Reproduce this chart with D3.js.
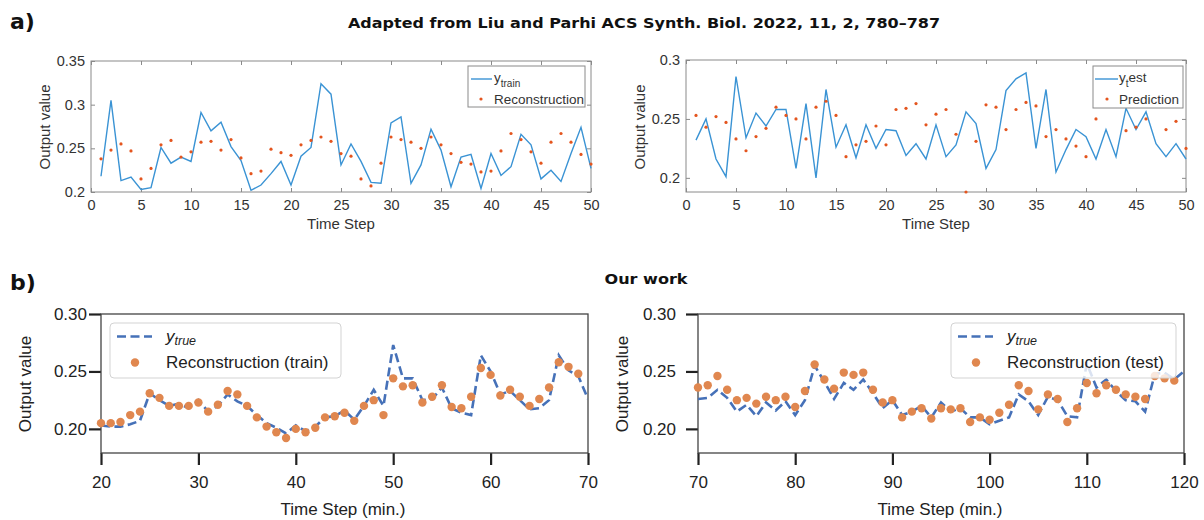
<!DOCTYPE html>
<html>
<head>
<meta charset="utf-8">
<script src="https://cdn.jsdelivr.net/npm/d3@7"></script>
<style>
  body { margin: 0; background: #fff; }
  svg { display: block; font-family: "Liberation Sans", Arial, sans-serif; }
</style>
</head>
<body>
<svg id="fig" width="1204" height="520"></svg>
<script>
// ---------- (a) Liu & Parhi: training reconstruction and test prediction ----------
const aFirstStep = 1;
const aTrain = [0.218,0.305,0.213,0.217,0.203,0.205,0.251,0.233,0.240,0.235,
                0.291,0.270,0.280,0.252,0.236,0.202,0.208,0.221,0.235,0.208,
                0.241,0.251,0.324,0.312,0.231,0.255,0.235,0.211,0.210,0.279,
                0.286,0.210,0.231,0.272,0.248,0.206,0.240,0.243,0.204,0.244,
                0.219,0.229,0.266,0.254,0.215,0.225,0.212,0.244,0.274,0.227];
const aReconstruction = [0.238,0.248,0.255,0.247,0.215,0.227,0.254,0.259,0.240,0.246,
                0.257,0.258,0.248,0.260,0.239,0.221,0.224,0.249,0.245,0.242,
                0.254,0.259,0.263,0.258,0.244,0.241,0.215,0.207,0.233,0.263,
                0.260,0.257,0.250,0.263,0.254,0.244,0.234,0.232,0.223,0.224,
                0.247,0.267,0.260,0.246,0.233,0.257,0.267,0.257,0.243,0.232];
const aTest = [0.232,0.250,0.216,0.201,0.286,0.234,0.255,0.244,0.258,0.258,
               0.208,0.263,0.200,0.275,0.226,0.245,0.217,0.245,0.225,0.241,
               0.240,0.219,0.229,0.216,0.245,0.218,0.228,0.256,0.246,0.208,
               0.224,0.274,0.284,0.289,0.225,0.275,0.205,0.224,0.241,0.235,
               0.216,0.241,0.218,0.259,0.241,0.256,0.229,0.218,0.229,0.216];
const aPrediction = [0.253,0.243,0.252,0.247,0.233,0.223,0.235,0.242,0.260,0.253,
               0.250,0.233,0.260,0.265,0.253,0.218,0.228,0.231,0.244,0.228,
               0.258,0.259,0.263,0.245,0.254,0.258,0.237,0.188,0.231,0.262,
               0.260,0.241,0.258,0.264,0.261,0.235,0.241,0.233,0.227,0.218,
               0.250,0.268,0.272,0.240,0.243,0.250,0.265,0.241,0.248,0.225];
const aXTicks = [0,5,10,15,20,25,30,35,40,45,50];
const aXTickLabels = ["0","5","10","15","20","25","30","35","40","45","50"];
const aLeftYTicks = [0.2,0.25,0.3,0.35];
const aLeftYTickLabels = ["0.2","0.25","0.3","0.35"];
const aRightYTicks = [0.2,0.25,0.3];
const aRightYTickLabels = ["0.2","0.25","0.3"];

// ---------- (b) Our work: train (20-70 min) and test (70-120 min) ----------
const bTrainFirstStep = 20;
const bTrainTrue = [0.203,0.202,0.202,0.204,0.207,0.231,0.225,0.220,0.222,0.218,
                    0.225,0.215,0.220,0.230,0.224,0.220,0.212,0.205,0.201,0.196,
                    0.203,0.198,0.202,0.210,0.211,0.216,0.208,0.220,0.234,0.220,
                    0.273,0.244,0.244,0.225,0.226,0.236,0.218,0.214,0.212,0.264,
                    0.250,0.230,0.233,0.225,0.217,0.218,0.225,0.264,0.251,0.246,
                    0.226];
const bTrainRecon = [0.205,0.205,0.206,0.212,0.215,0.231,0.227,0.220,0.220,0.220,
                     0.223,0.215,0.221,0.233,0.230,0.220,0.210,0.202,0.197,0.192,
                     0.200,0.197,0.201,0.210,0.211,0.214,0.207,0.220,0.225,0.212,
                     0.244,0.237,0.238,0.223,0.228,0.238,0.219,0.218,0.228,0.253,
                     0.247,0.229,0.234,0.228,0.220,0.226,0.236,0.258,0.254,0.248];
const bTestFirstStep = 70;
const bTestTrue = [0.226,0.227,0.234,0.227,0.215,0.221,0.211,0.223,0.216,0.224,
                   0.212,0.225,0.255,0.241,0.226,0.240,0.234,0.243,0.231,0.218,
                   0.225,0.212,0.215,0.220,0.210,0.223,0.215,0.218,0.210,0.210,
                   0.204,0.207,0.210,0.230,0.224,0.212,0.228,0.225,0.211,0.210,
                   0.257,0.236,0.243,0.233,0.225,0.224,0.215,0.248,0.249,0.243,
                   0.250];
const bTestRecon = [0.236,0.238,0.246,0.234,0.225,0.227,0.222,0.228,0.225,0.228,
                    0.219,0.233,0.256,0.243,0.235,0.249,0.247,0.249,0.234,0.223,
                    0.225,0.210,0.215,0.218,0.209,0.218,0.217,0.218,0.206,0.210,
                    0.208,0.214,0.221,0.238,0.233,0.217,0.230,0.226,0.206,0.218,
                    0.240,0.231,0.238,0.234,0.230,0.228,0.226,0.246,0.244,0.242];
const bTrainXTicks = [20,30,40,50,60,70];
const bTrainXTickLabels = ["20","30","40","50","60","70"];
const bTestXTicks = [70,80,90,100,110,120];
const bTestXTickLabels = ["70","80","90","100","110","120"];
const bYTicks = [0.20,0.25,0.30];
const bYTickLabels = ["0.20","0.25","0.30"];

const svg = d3.select("#fig");
const SANS = '"Liberation Sans", Arial, sans-serif';
const BOLD = '"DejaVu Sans", Verdana, sans-serif';

// headings
svg.append("text").attr("x", 10).attr("y", 29).attr("font-family", BOLD).attr("font-weight", "bold")
  .attr("font-size", 22).attr("fill", "#111").text("a)");
svg.append("text").attr("x", 644).attr("y", 28).attr("text-anchor", "middle").attr("font-family", BOLD)
  .attr("font-weight", "bold").attr("font-size", 14).attr("fill", "#111")
  .attr("textLength", 592).attr("lengthAdjust", "spacingAndGlyphs")
  .text("Adapted from Liu and Parhi ACS Synth. Biol. 2022, 11, 2, 780\u2013787");
svg.append("text").attr("x", 10).attr("y", 290).attr("font-family", BOLD).attr("font-weight", "bold")
  .attr("font-size", 22).attr("fill", "#111").text("b)");
svg.append("text").attr("x", 646).attr("y", 284).attr("text-anchor", "middle").attr("font-family", BOLD)
  .attr("font-weight", "bold").attr("font-size", 14).attr("fill", "#111")
  .attr("textLength", 83).attr("lengthAdjust", "spacingAndGlyphs")
  .text("Our work");

function styleAxis(g, size, color) {
  g.attr("font-family", SANS).attr("font-size", size);
  g.selectAll("text").attr("fill", color);
}

// MATLAB-style panel: boxed axes, inward ticks on all four sides
function matlabPanel(o) {
  const x = d3.scaleLinear().domain([0, 50]).range([o.left, o.right]);
  const y = d3.scaleLinear().domain(o.yDomain).range([o.bottom, o.top]);
  const g = svg.append("g");
  const tickColor = "#8a8a8a";

  const bx = g.append("g").attr("transform", `translate(0,${o.bottom})`)
    .call(d3.axisBottom(x).tickValues(aXTicks).tickFormat((d, i) => aXTickLabels[i])
      .tickSizeInner(-4).tickSizeOuter(0).tickPadding(8));
  const tx = g.append("g").attr("transform", `translate(0,${o.top})`)
    .call(d3.axisTop(x).tickValues(aXTicks).tickFormat("").tickSizeInner(-4).tickSizeOuter(0));
  const ly = g.append("g").attr("transform", `translate(${o.left},0)`)
    .call(d3.axisLeft(y).tickValues(o.yTicks).tickFormat((d, i) => o.yLabels[i])
      .tickSizeInner(-4).tickSizeOuter(0).tickPadding(6));
  const ry = g.append("g").attr("transform", `translate(${o.right},0)`)
    .call(d3.axisRight(y).tickValues(o.yTicks).tickFormat("").tickSizeInner(-4).tickSizeOuter(0));
  [bx, tx, ly, ry].forEach(a => {
    a.select(".domain").remove();
    a.selectAll("line").attr("stroke", tickColor);
    styleAxis(a, 14.5, "#333");
  });

  g.append("rect").attr("x", o.left).attr("y", o.top)
    .attr("width", o.right - o.left).attr("height", o.bottom - o.top)
    .attr("fill", "none").attr("stroke", tickColor).attr("stroke-width", 1);

  const steps = o.line.map((v, i) => aFirstStep + i);
  g.append("path").datum(o.line)
    .attr("d", d3.line().x((d, i) => x(steps[i])).y(d => y(d)))
    .attr("fill", "none").attr("stroke", "#3a93d4").attr("stroke-width", 1.4);
  g.selectAll("circle.pt").data(o.dots).join("circle").attr("class", "pt")
    .attr("cx", (d, i) => x(aFirstStep + i)).attr("cy", d => y(d)).attr("r", 1.6)
    .attr("fill", "#e4551e");

  // axis titles
  g.append("text").attr("transform", `translate(${o.yLabelX},127) rotate(-90)`)
    .attr("text-anchor", "middle").attr("dy", "0.35em").attr("font-size", 15).attr("fill", "#333")
    .text("Output value");
  g.append("text").attr("x", (o.left + o.right) / 2).attr("y", 229)
    .attr("text-anchor", "middle").attr("font-size", 15).attr("fill", "#333").text("Time Step");

  // legend
  const L = o.legend;
  g.append("rect").attr("x", L.x).attr("y", L.y).attr("width", L.w).attr("height", L.h)
    .attr("fill", "#fff").attr("stroke", tickColor).attr("stroke-width", 1);
  g.append("line").attr("x1", L.lineX1).attr("x2", L.lineX2).attr("y1", L.y + 13).attr("y2", L.y + 13)
    .attr("stroke", "#3a93d4").attr("stroke-width", 1.4);
  const t1 = g.append("text").attr("x", L.textX).attr("y", L.y + 16).attr("font-size", 13.5).attr("fill", "#333");
  t1.append("tspan").text("y");
  t1.append("tspan").attr("dy", 5).attr("font-size", 10).text(L.sub);
  if (L.after) t1.append("tspan").attr("dy", -5).text(L.after);
  g.append("circle").attr("cx", L.dotX).attr("cy", L.y + 33).attr("r", 1.6).attr("fill", "#e4551e");
  g.append("text").attr("x", L.textX).attr("y", L.y + 38).attr("font-size", 13.5).attr("fill", "#333")
    .text(L.second);
}

// seaborn-style panel: dark spines, long outward ticks, dashed truth line and dot reconstruction
function seabornPanel(o) {
  const x = d3.scaleLinear().domain(o.xDomain).range([o.left, o.right]);
  const y = d3.scaleLinear().domain([0.179, 0.30]).range([453, 314]);
  const g = svg.append("g");

  const bx = g.append("g").attr("transform", "translate(0,453)")
    .call(d3.axisBottom(x).tickValues(o.xTicks).tickFormat((d, i) => o.xLabels[i])
      .tickSizeInner(12).tickSizeOuter(0).tickPadding(11));
  const ly = g.append("g").attr("transform", `translate(${o.left},0)`)
    .call(d3.axisLeft(y).tickValues(bYTicks).tickFormat((d, i) => bYTickLabels[i])
      .tickSizeInner(12).tickSizeOuter(0).tickPadding(o.yPad));
  [bx, ly].forEach(a => {
    a.select(".domain").remove();
    a.selectAll("line").attr("stroke", "#222").attr("stroke-width", 2.2);
    styleAxis(a, 17, "#222");
  });

  g.append("rect").attr("x", o.left).attr("y", 314)
    .attr("width", o.right - o.left).attr("height", 453 - 314)
    .attr("fill", "none").attr("stroke", "#444").attr("stroke-width", 1.3);

  const clipId = "clip" + o.xDomain[0];
  g.append("clipPath").attr("id", clipId).append("rect")
    .attr("x", o.left).attr("y", 314).attr("width", o.right - o.left).attr("height", 139);

  g.append("path").datum(o.truth).attr("clip-path", `url(#${clipId})`)
    .attr("d", d3.line().x((d, i) => x(o.first + i)).y(d => y(d)))
    .attr("fill", "none").attr("stroke", "#4671b8").attr("stroke-width", 2.6)
    .attr("stroke-dasharray", "9,4.5");
  g.selectAll("circle.pt").data(o.recon).join("circle").attr("class", "pt")
    .attr("cx", (d, i) => x(o.first + i)).attr("cy", d => y(d)).attr("r", 4.2)
    .attr("fill", "#e0874f");

  g.append("text").attr("transform", `translate(${o.yLabelX},384) rotate(-90)`)
    .attr("text-anchor", "middle").attr("dy", "0.35em").attr("font-size", 17).attr("fill", "#222")
    .text("Output value");
  g.append("text").attr("x", o.xLabelX).attr("y", 515)
    .attr("text-anchor", "middle").attr("font-size", 17).attr("fill", "#222").text("Time Step (min.)");

  // legend
  const L = o.legend;
  g.append("rect").attr("x", L.x).attr("y", 323).attr("width", L.w).attr("height", 55)
    .attr("rx", 4).attr("fill", "#fff").attr("fill-opacity", 0.8)
    .attr("stroke", "#d3d3d3").attr("stroke-width", 1);
  g.append("line").attr("x1", L.x + 7).attr("x2", L.x + 42).attr("y1", 336.5).attr("y2", 336.5)
    .attr("stroke", "#4671b8").attr("stroke-width", 2.6).attr("stroke-dasharray", "9,4.5");
  const t1 = g.append("text").attr("x", L.x + 56).attr("y", 342).attr("font-size", 17)
    .attr("fill", "#222").attr("font-style", "italic");
  t1.append("tspan").text("y");
  t1.append("tspan").attr("dy", 3).attr("font-size", 12.5).text("true");
  g.append("circle").attr("cx", L.x + 25).attr("cy", 362.5).attr("r", 4.2).attr("fill", "#e0874f");
  g.append("text").attr("x", L.x + 56).attr("y", 368).attr("font-size", 17).attr("fill", "#222")
    .text(L.label);
}

matlabPanel({
  left: 91, right: 591, top: 61, bottom: 192, yDomain: [0.2, 0.35],
  yTicks: aLeftYTicks, yLabels: aLeftYTickLabels, yLabelX: 45,
  line: aTrain, dots: aReconstruction,
  legend: { x: 468, y: 66, w: 117, h: 41, lineX1: 471, lineX2: 492, textX: 494, dotX: 481,
            sub: "train", after: null, second: "Reconstruction" }
});
matlabPanel({
  left: 686, right: 1186, top: 60, bottom: 192, yDomain: [0.188, 0.3],
  yTicks: aRightYTicks, yLabels: aRightYTickLabels, yLabelX: 640,
  line: aTest, dots: aPrediction,
  legend: { x: 1093, y: 66, w: 90, h: 42, lineX1: 1095, lineX2: 1118, textX: 1119, dotX: 1107,
            sub: "t", after: "est", second: "Prediction" }
});

seabornPanel({
  left: 101, right: 588, xDomain: [20, 70], xTicks: bTrainXTicks, xLabels: bTrainXTickLabels,
  first: bTrainFirstStep, truth: bTrainTrue, recon: bTrainRecon, yPad: 2,
  yLabelX: 25, xLabelX: 343,
  legend: { x: 110, w: 231, label: "Reconstruction (train)" }
});
seabornPanel({
  left: 698, right: 1184, xDomain: [70, 120], xTicks: bTestXTicks, xLabels: bTestXTickLabels,
  first: bTestFirstStep, truth: bTestTrue, recon: bTestRecon, yPad: 10,
  yLabelX: 622, xLabelX: 940,
  legend: { x: 951, w: 225, label: "Reconstruction (test)" }
});
</script>
</body>
</html>
